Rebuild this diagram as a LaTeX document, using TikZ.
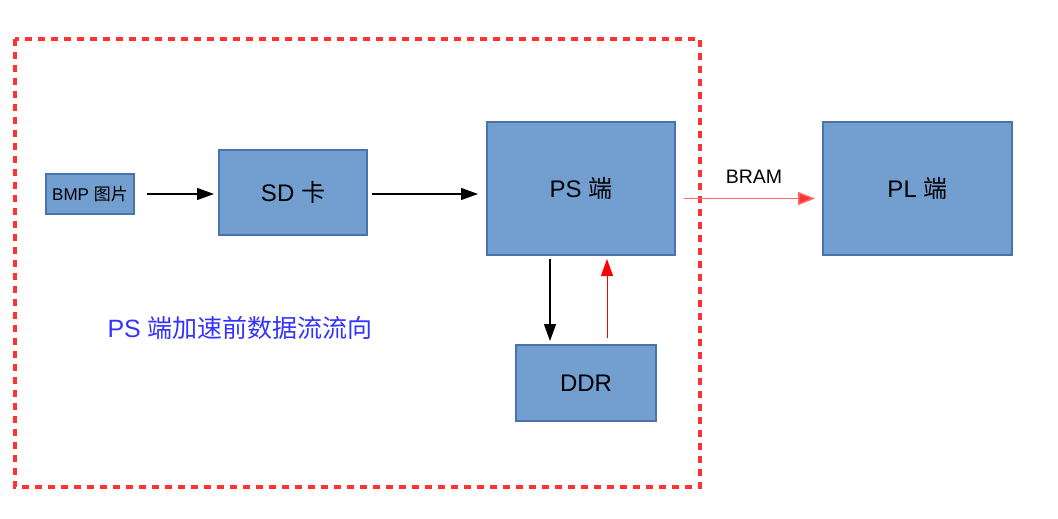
\documentclass[tikz,border=0pt]{standalone}
\usepackage{fontspec}
\setmainfont{Liberation Sans}
\newfontfamily\cjk{Noto Sans CJK SC}
\usepackage{tikz}
\usetikzlibrary{arrows.meta, positioning}

\definecolor{blkfill}{HTML}{729FCF}
\definecolor{blkline}{HTML}{4A73AE}
\definecolor{dashred}{HTML}{FF3333}
\definecolor{bramred}{HTML}{FF6666}
\definecolor{notblue}{HTML}{3333FF}

\begin{document}
\begin{tikzpicture}[x=1pt, y=1pt,
        node distance = 85pt and 85pt,
        blk/.style = {draw=blkline, fill=blkfill, line width=1.3pt, inner sep=0pt, outer sep=0pt,
                      font=\fontsize{24pt}{28pt}\selectfont},
        flow/.style = {line width=1.2pt, -{Triangle[length=17pt, width=12pt]}},
    ]
    \useasboundingbox (0,0) rectangle (1058,-519);
    \draw[dashred, line width=3.2pt, dash pattern=on 7pt off 6pt] (15,-39) rectangle (700,-487);
    %
    \node[blk, minimum width=88pt, minimum height=40pt, font=\fontsize{17pt}{20pt}\selectfont]
                                                        (bmp) at (90,-194) {BMP {\cjk 图片}};
    \node[blk, minimum width=148pt, minimum height=85pt, right=of bmp, yshift=1.5pt]
                                                        (sd) {SD {\cjk 卡}};
    \node[blk, minimum width=188pt, minimum height=133pt, right=120pt of sd, yshift=4pt]
                                                        (ps) {PS {\cjk 端}};
    \node[blk, minimum width=189pt, minimum height=133pt, right=148pt of ps]
                                                        (pl) {PL {\cjk 端}};
    \node[blk, minimum width=140pt, minimum height=76pt, below=90pt of ps, xshift=5pt]
                                                        (ddr) {DDR};
    \node[anchor=west, text=notblue, font=\fontsize{25pt}{29pt}\selectfont]
                                                        (title) at (104,-328) {PS {\cjk 端加速前数据流流向}};
    %
    \draw[flow, shorten <=13pt, shorten >=5pt]  (bmp.east) -- (bmp.east -| sd.west);
    \draw[flow, shorten <=5pt, shorten >=9pt]  ([yshift=-1.5pt]sd.east) -- ([yshift=-1.5pt]sd.east -| ps.west);
    \draw[flow, shorten <=4pt, shorten >=4pt]  ([xshift=-31pt]ps.south) -- ([xshift=-31pt]ps.south |- ddr.north);
    \draw[flow, red, line width=1pt, shorten <=7pt, shorten >=4pt]  ([xshift=26pt]ps.south |- ddr.north) -- ([xshift=26pt]ps.south);
    \draw[flow, bramred, line width=1.5pt, -{Triangle[length=17pt, width=13pt, fill=dashred]}, shorten <=9pt, shorten >=8pt]
        ([yshift=-10pt]ps.east) -- ([yshift=-10pt]ps.east -| pl.west) node[midway, above=11pt, xshift=5pt, black, font=\fontsize{19.5pt}{22pt}\selectfont] {BRAM};
    %
\end{tikzpicture}
\end{document}
